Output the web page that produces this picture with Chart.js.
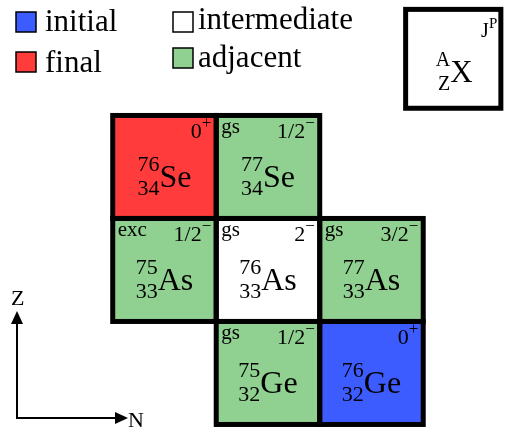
<!DOCTYPE html>
<html>
<head>
  <title>Nuclide chart</title>
  <script src="https://cdn.jsdelivr.net/npm/chart.js"></script>
  <style>
    body { margin: 0; background: #fff; }
    #wrap { width: 508px; height: 429px; }
  </style>
</head>
<body>
  <div id="wrap"><canvas id="nucChart" width="508" height="429"></canvas></div>

  <script>
    // nuclides: neutron number N, proton number Z, mass number A
    const nuclideN = [42, 43, 42, 43, 44, 43, 44];
    const nuclideZ = [34, 34, 33, 33, 33, 32, 32];
    const nuclideA = [76, 77, 75, 76, 77, 75, 76];
    const symbols = ['Se', 'Se', 'As', 'As', 'As', 'Ge', 'Ge'];
    const spins = ['0', '1/2', '1/2', '2', '3/2', '1/2', '0'];
    const parities = ['+', '\u2212', '\u2212', '\u2212', '\u2212', '\u2212', '+'];
    const states = ['', 'gs', 'exc', 'gs', 'gs', 'gs', ''];
    const roles = ['final', 'adjacent', 'adjacent', 'intermediate', 'adjacent', 'adjacent', 'initial'];

    const roleNames = ['initial', 'final', 'intermediate', 'adjacent'];
    const roleColors = ['#3d5cff', '#ff3b3b', '#ffffff', '#90d090'];

    const SERIF = '"Liberation Serif", "DejaVu Serif", serif';

    function drawNuclide(ctx, cx, baseY, sup, sub, sym, numSize, symSize) {
      ctx.font = numSize + 'px ' + SERIF;
      const wNum = Math.max(ctx.measureText(sup).width, ctx.measureText(sub).width);
      ctx.font = symSize + 'px ' + SERIF;
      const wSym = ctx.measureText(sym).width;
      const left = cx - (wNum + wSym) / 2;
      ctx.textAlign = 'right';
      ctx.font = numSize + 'px ' + SERIF;
      ctx.fillText(sup, left + wNum, baseY - 16);
      ctx.fillText(sub, left + wNum, baseY + 8);
      ctx.textAlign = 'left';
      ctx.font = symSize + 'px ' + SERIF;
      ctx.fillText(sym, left + wNum, baseY);
    }

    function drawSpin(ctx, right, baseY, main, sign, mainSize, signSize) {
      ctx.textAlign = 'left';
      ctx.font = signSize + 'px ' + SERIF;
      const wSign = ctx.measureText(sign).width;
      ctx.font = mainSize + 'px ' + SERIF;
      const wMain = ctx.measureText(main).width;
      ctx.fillText(main, right - wSign - wMain, baseY);
      ctx.font = signSize + 'px ' + SERIF;
      ctx.fillText(sign, right - wSign, baseY - 10);
    }

    const cellPlugin = {
      id: 'cells',
      afterDatasetsDraw(chart) {
        const ctx = chart.ctx;
        const xs = chart.scales.x, ys = chart.scales.y;
        ctx.save();
        ctx.textBaseline = 'alphabetic';
        ctx.fillStyle = '#000';

        const box = i => ({
          l: xs.getPixelForValue(nuclideN[i] - 0.5),
          r: xs.getPixelForValue(nuclideN[i] + 0.5),
          t: ys.getPixelForValue(nuclideZ[i] + 0.5),
          b: ys.getPixelForValue(nuclideZ[i] - 0.5)
        });

        // fills
        nuclideN.forEach((n, i) => {
          const b = box(i);
          ctx.fillStyle = roleColors[roleNames.indexOf(roles[i])];
          ctx.fillRect(b.l, b.t, b.r - b.l, b.b - b.t);
        });
        // borders
        ctx.strokeStyle = '#000';
        ctx.lineWidth = 5;
        nuclideN.forEach((n, i) => {
          const b = box(i);
          ctx.strokeRect(b.l, b.t, b.r - b.l, b.b - b.t);
        });
        // labels
        ctx.fillStyle = '#000';
        nuclideN.forEach((n, i) => {
          const b = box(i);
          const cx = (b.l + b.r) / 2, cy = (b.t + b.b) / 2;
          drawNuclide(ctx, cx, cy + 20, String(nuclideA[i]), String(nuclideZ[i]), symbols[i], 22, 32);
          if (states[i]) {
            ctx.textAlign = 'left';
            ctx.font = '21px ' + SERIF;
            ctx.fillText(states[i], b.l + 5, b.t + 18);
          }
          drawSpin(ctx, b.r - 5, b.t + 23, spins[i], parities[i], 22, 17);
        });

        // key box
        const kl = xs.getPixelForValue(44.33), kr = xs.getPixelForValue(45.25);
        const kt = ys.getPixelForValue(35.53), kb = ys.getPixelForValue(34.57);
        ctx.fillStyle = '#fff';
        ctx.fillRect(kl, kt, kr - kl, kb - kt);
        ctx.strokeRect(kl, kt, kr - kl, kb - kt);
        ctx.fillStyle = '#000';
        drawNuclide(ctx, (kl + kr) / 2 + 1, 82, 'A', 'Z', 'X', 20, 31);
        ctx.textAlign = 'left';
        ctx.font = '20px ' + SERIF;
        ctx.fillText('J', 481, 37);
        ctx.font = '15px ' + SERIF;
        ctx.fillText('P', 489, 28);

        // legend
        const lx = [16, 173], ly = [12, 52, 12, 48];
        const tb = [31, 72, 29, 67];
        roleNames.forEach((name, k) => {
          const x = lx[Math.floor(k / 2)], y = ly[k];
          ctx.fillStyle = roleColors[k];
          ctx.fillRect(x, y, 20, 20);
          ctx.lineWidth = 1.5;
          ctx.strokeStyle = '#000';
          ctx.strokeRect(x, y, 20, 20);
          ctx.fillStyle = '#000';
          ctx.font = '31px ' + SERIF;
          ctx.textAlign = 'left';
          ctx.fillText(name, k < 2 ? 45 : 198, tb[k]);
        });

        // axis arrows
        ctx.strokeStyle = '#000';
        ctx.lineWidth = 2;
        ctx.beginPath();
        ctx.moveTo(17, 322);
        ctx.lineTo(17, 418);
        ctx.lineTo(116, 418);
        ctx.stroke();
        ctx.beginPath();
        ctx.moveTo(17, 311); ctx.lineTo(11, 324); ctx.lineTo(23, 324); ctx.closePath();
        ctx.fill();
        ctx.beginPath();
        ctx.moveTo(128, 418); ctx.lineTo(115, 412); ctx.lineTo(115, 424); ctx.closePath();
        ctx.fill();
        ctx.font = '22px ' + SERIF;
        ctx.fillText('Z', 11, 305);
        ctx.fillText('N', 128, 427);
        ctx.restore();
      }
    };

    new Chart(document.getElementById('nucChart').getContext('2d'), {
      type: 'scatter',
      data: {
        datasets: [{
          data: nuclideN.map((n, i) => ({ x: n, y: nuclideZ[i] })),
          pointRadius: 0
        }]
      },
      options: {
        responsive: false,
        animation: false,
        layout: { padding: 0 },
        plugins: { legend: { display: false }, tooltip: { enabled: false } },
        scales: {
          x: { type: 'linear', display: false, min: 40.411, max: 45.319 },
          y: { type: 'linear', display: false, min: 31.456, max: 35.621 }
        }
      },
      plugins: [cellPlugin]
    });
  </script>
</body>
</html>
